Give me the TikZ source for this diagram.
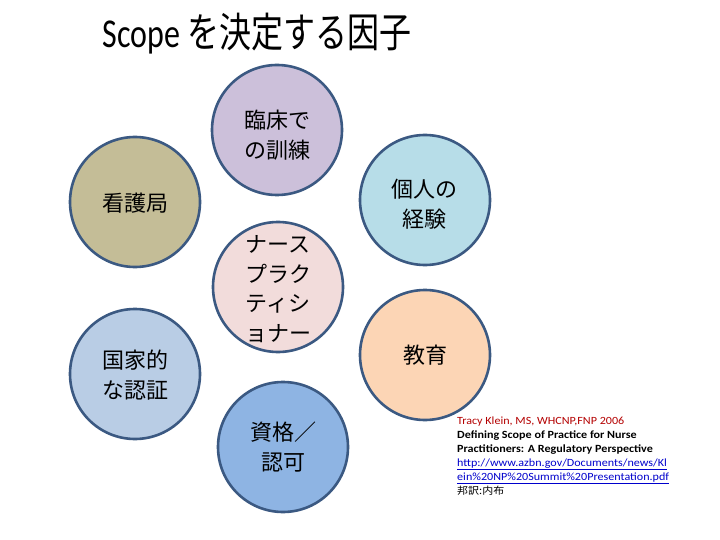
\documentclass[tikz,border=0pt]{standalone}
\usepackage{fontspec}
\usepackage{graphicx}
\setmainfont{Carlito}
\newfontfamily\jp{Noto Sans CJK JP}
\definecolor{edge}{RGB}{59,89,130}
\definecolor{cTop}{RGB}{204,192,218}
\definecolor{cTL}{RGB}{196,189,151}
\definecolor{cTR}{RGB}{183,221,232}
\definecolor{cMid}{RGB}{242,220,219}
\definecolor{cBL}{RGB}{185,205,229}
\definecolor{cBR}{RGB}{252,213,181}
\definecolor{cBot}{RGB}{142,180,227}
\definecolor{refred}{RGB}{180,0,0}
\definecolor{linkblue}{RGB}{0,0,204}
\begin{document}
\begin{tikzpicture}[x=1pt,y=-1pt,
  bubble/.style={circle,draw=edge,line width=2.6pt,minimum size=130pt,inner sep=0pt},
  lbl/.style={align=center,inner sep=0pt,font=\jp\fontsize{22}{29.5}\selectfont}]
\useasboundingbox (0,0) rectangle (720,540);
\fill[white] (0,0) rectangle (720,540);
\node[inner sep=0pt,font=\fontsize{41}{44}\selectfont] (title) at (257,34) {\scalebox{0.78}[1]{Scope {\jp を決定する因子}}};
% circles
\node[bubble,fill=cTop] (top) at (277,130) {};
\node[bubble,fill=cTL] (tl) at (135,202) {};
\node[bubble,fill=cTR] (tr) at (425,200) {};
\node[bubble,fill=cMid] (mid) at (278,287) {};
\node[bubble,fill=cBL] (bl) at (135,374) {};
\node[bubble,fill=cBR] (br) at (425,355) {};
\node[bubble,fill=cBot] (bot) at (283,447) {};
% labels
\node[lbl] (ttop) at (277,135) {臨床で\\の訓練};
\node[lbl] (ttl) at (135,203) {看護局};
\node[lbl] (ttr) at (424,204) {個人の\\経験};
\node[lbl] (tmid) at (278,289) {ナース\\プラク\\ティシ\\ョナー};
\node[lbl] (tbl) at (135,375) {国家的\\な認証};
\node[lbl] (tbr) at (425,355) {教育};
\node[lbl] (tbot) at (283,447) {資格／\\認可};
% reference
\node[anchor=north west,inner sep=0pt] (ref) at (457,414) {\scalebox{1.1}[1]{\fontsize{11}{14}\selectfont\begin{tabular}{@{}l@{}}
\textcolor{refred}{Tracy Klein, MS, WHCNP,FNP 2006}\\
\textbf{Defining Scope of Practice for Nurse}\\
\textbf{Practitioners: A Regulatory Perspective}\\
\textcolor{linkblue}{\underline{http://www.azbn.gov/Documents/news/Kl}}\\
\textcolor{linkblue}{\underline{ein\%20NP\%20Summit\%20Presentation.pdf}}\\
{\jp\fontsize{10}{14}\selectfont 邦訳:内布}
\end{tabular}}};
\end{tikzpicture}
\end{document}
